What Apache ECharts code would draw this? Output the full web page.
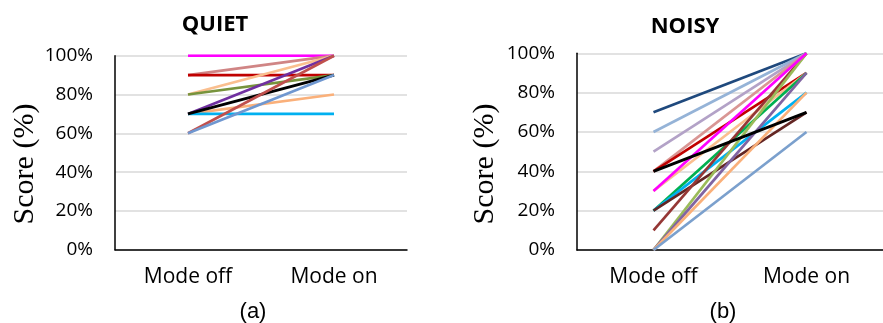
<!DOCTYPE html>
<html>
<head>
<meta charset="utf-8">
<script src="https://cdn.jsdelivr.net/npm/echarts@6/dist/echarts.min.js"></script>
<style>html,body{margin:0;padding:0;background:#fff;}#c{width:883px;height:323px;}</style>
</head>
<body>
<div id="c"></div>
<script>
const categories = ['Mode off', 'Mode on'];
const yTicks = [0, 20, 40, 60, 80, 100];

// QUIET panel (a): score with mode off / mode on, one entry per participant
const quietOff = [100, 90, 90, 80, 80, 70, 70, 70, 70, 60, 60];
const quietOn  = [100, 100, 90, 100, 90, 100, 80, 70, 90, 100, 90];
const quietColors = ['#ff00ff', '#d08585', '#c00000', '#fabf8f', '#77933c', '#7030a0',
                     '#fab07a', '#00b0f0', '#000000', '#c0504d', '#6f97d0'];

// NOISY panel (b)
const noisyOff = [70, 60, 50, 40, 40, 30, 20, 20, 20, 10, 0, 0, 0, 0, 30, 40];
const noisyOn  = [100, 100, 100, 100, 90, 90, 90, 80, 70, 100, 100, 90, 80, 60, 100, 70];
const noisyColors = ['#1f497d', '#95b3d7', '#b3a2c7', '#d99694', '#c00000', '#fabf8f',
                     '#00b050', '#00b0f0', '#632523', '#953735', '#9bbb59', '#8064a2',
                     '#fab07a', '#7ba0cd', '#ff00ff', '#000000'];

const FONT = '"Open Sans", "Noto Sans", sans-serif';
const SERIF = '"Liberation Serif", "DejaVu Serif", serif';
const ARIAL = '"Liberation Sans", Arial, sans-serif';

function buildSeries(off, on, colors, idx) {
  return off.map((v, i) => ({
    type: 'line',
    xAxisIndex: idx,
    yAxisIndex: idx,
    data: [v, on[i]],
    symbol: 'none',
    silent: true,
    animation: false,
    lineStyle: { color: colors[i], width: colors[i] === '#000000' ? 3 : 2.7 },
    z: 2 + i * 0.01
  }));
}

function yAxis(gi) {
  return {
    gridIndex: gi, type: 'value', min: 0, max: 100, interval: 20,
    axisLine: { show: true, lineStyle: { color: '#000', width: 1.5 } },
    axisTick: { show: false },
    splitLine: { show: true, lineStyle: { color: '#d9d9d9', width: 1.5 } },
    axisLabel: { formatter: '{value}%', fontFamily: FONT, fontSize: 19, color: '#000', margin: 22 }
  };
}
function xAxis(gi) {
  return {
    gridIndex: gi, type: 'category', data: categories, boundaryGap: true,
    axisLine: { show: true, lineStyle: { color: '#000', width: 1.5 } },
    axisTick: { show: false },
    axisLabel: { fontFamily: FONT, fontSize: 21, color: '#000', margin: 17 }
  };
}

function txt(x, y, text, family, size, weight, rot) {
  return {
    type: 'text', x: x, y: y, rotation: rot || 0,
    style: { text: text, fontFamily: family, fontSize: size, fontWeight: weight || 'normal',
             fill: '#000', align: 'center', verticalAlign: 'middle' }
  };
}

const chart = echarts.init(document.getElementById('c'), null, { renderer: 'canvas' });
chart.setOption({
  animation: false,
  backgroundColor: '#fff',
  grid: [
    { left: 115, top: 55.7, width: 292, height: 194, outerBoundsMode: 'none', containLabel: false },
    { left: 577, top: 53.3, width: 306, height: 196.7, outerBoundsMode: 'none', containLabel: false }
  ],
  xAxis: [xAxis(0), xAxis(1)],
  yAxis: [yAxis(0), yAxis(1)],
  series: buildSeries(quietOff, quietOn, quietColors, 0).concat(buildSeries(noisyOff, noisyOn, noisyColors, 1)),
  graphic: [
    txt(215, 25, 'QUIET', FONT, 22, 'bold'),
    txt(685, 27, 'NOISY', FONT, 22, 'bold'),
    txt(25, 164, 'Score (%)', SERIF, 30, 'normal', Math.PI / 2),
    txt(485, 164, 'Score (%)', SERIF, 30, 'normal', Math.PI / 2),
    txt(253, 312, '(a)', ARIAL, 22),
    txt(723, 312, '(b)', ARIAL, 22)
  ]
});
</script>
</body>
</html>
